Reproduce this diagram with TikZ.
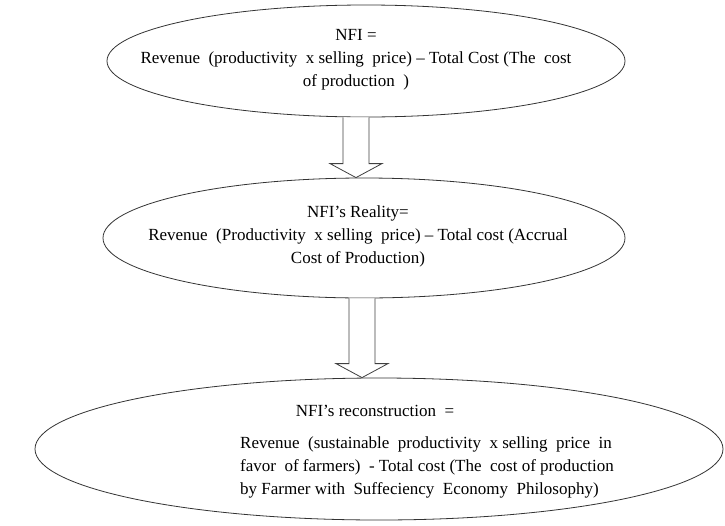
\documentclass[tikz,border=0pt]{standalone}
\usepackage{fontspec}
\setmainfont{Liberation Serif}
\usetikzlibrary{calc,positioning,shapes.geometric}

\begin{document}
\begin{tikzpicture}[x=1pt,y=-1pt,
  bubble/.style={draw=black!80,ellipse,line width=0.8pt,inner sep=0pt},
  txt/.style={font=\fontsize{17}{23}\selectfont,align=center,inner sep=0pt},
  hollow/.style={draw=black!75,line width=0.8pt,fill=white,line join=miter}]
  \useasboundingbox (0,0) rectangle (725,525);
  % the three ellipses
  \node[bubble,minimum width=518pt,minimum height=112pt] (e1) at (366,61) {};
  \node[bubble,minimum width=522pt,minimum height=120pt] (e2) at (364,238) {};
  \node[bubble,minimum width=688pt,minimum height=142pt] (e3) at (379,449) {};
  % texts
  \node[txt] (t1) at (356,60) {NFI =\\Revenue\ \ (productivity\ \ x selling\ \ price) -- Total Cost (The\ \ cost\\of production\ \ )};
  \node[txt] (t2) at (358,236) {NFI's Reality=\\Revenue\ \ (Productivity\ \ x selling\ \ price) -- Total cost (Accrual\\Cost of Production)};
  \node[txt] (t3a) at (375,411) {NFI's reconstruction\ \ =};
  \node[txt,align=left,anchor=north west] (t3b) at (240,436) {Revenue\ \ (sustainable\ \ productivity\ \ x selling\ \ price\ \ in\\favor\ \ of farmers)\ \ - Total cost (The\ \ cost of production\\by Farmer with\ \ Suffeciency\ \ Economy\ \ Philosophy)};
  % hollow arrows
  \foreach \a/\b/\xx in {e1/e2/356,e2/e3/362}{
    \coordinate (top) at (\xx,0 |- \a.south);
    \coordinate (tip) at (\xx,0 |- \b.north);
    \draw[hollow] ($(top)+(-13,0)$) -- ($(tip)+(-13,-14)$) -- ($(tip)+(-26,-14)$) -- (tip)
      -- ($(tip)+(26,-14)$) -- ($(tip)+(13,-14)$) -- ($(top)+(13,0)$);
  }
\end{tikzpicture}
\end{document}
